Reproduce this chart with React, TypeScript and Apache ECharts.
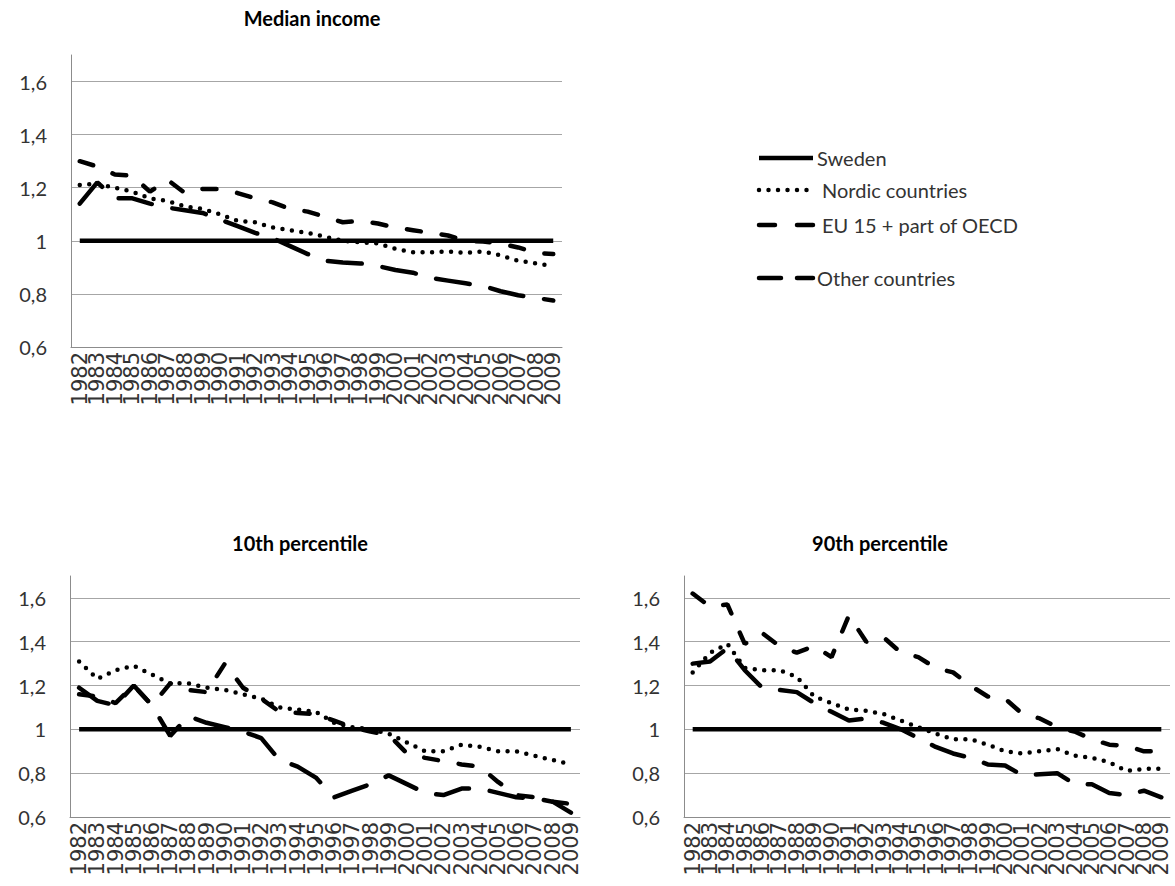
import * as echarts from "echarts";
import { useEffect, useRef } from "react";

const years = [
  "1982", "1983", "1984", "1985", "1986", "1987", "1988", "1989", "1990", "1991",
  "1992", "1993", "1994", "1995", "1996", "1997", "1998", "1999", "2000", "2001",
  "2002", "2003", "2004", "2005", "2006", "2007", "2008", "2009",
];

const seriesNames = ["Sweden", "Nordic countries", "EU 15 + part of OECD", "Other countries"];

const sweden = [1, 1, 1, 1, 1, 1, 1, 1, 1, 1, 1, 1, 1, 1, 1, 1, 1, 1, 1, 1, 1, 1, 1, 1, 1, 1, 1, 1];

// Median income
const nordicMedian = [1.21, 1.215, 1.2, 1.185, 1.16, 1.15, 1.13, 1.12, 1.1, 1.075, 1.07, 1.05, 1.04, 1.03, 1.015, 1.0, 0.995, 0.99, 0.97, 0.957, 0.957, 0.96, 0.955, 0.96, 0.945, 0.925, 0.915, 0.905];
const eu15Median = [1.3, 1.28, 1.25, 1.245, 1.185, 1.23, 1.18, 1.195, 1.195, 1.18, 1.16, 1.145, 1.12, 1.11, 1.09, 1.07, 1.075, 1.065, 1.05, 1.04, 1.03, 1.02, 1.0, 0.997, 0.99, 0.975, 0.955, 0.95];
const otherMedian = [1.14, 1.22, 1.16, 1.16, 1.14, 1.125, 1.115, 1.105, 1.08, 1.055, 1.03, 1.01, 0.98, 0.95, 0.925, 0.918, 0.915, 0.905, 0.89, 0.88, 0.86, 0.85, 0.84, 0.83, 0.81, 0.795, 0.785, 0.775];

// 10th percentile
const nordicP10 = [1.31, 1.23, 1.27, 1.29, 1.25, 1.21, 1.21, 1.19, 1.18, 1.16, 1.14, 1.1, 1.09, 1.08, 1.03, 1.01, 1.0, 0.98, 0.94, 0.9, 0.9, 0.93, 0.92, 0.9, 0.9, 0.88, 0.86, 0.84];
const eu15P10 = [1.16, 1.15, 1.12, 1.2, 1.11, 1.21, 1.18, 1.17, 1.3, 1.19, 1.14, 1.08, 1.075, 1.07, 1.04, 1.01, 0.99, 0.975, 0.89, 0.87, 0.855, 0.84, 0.83, 0.76, 0.7, 0.69, 0.67, 0.66];
const otherP10 = [1.19, 1.13, 1.11, 1.2, 1.11, 0.97, 1.06, 1.03, 1.01, 0.99, 0.96, 0.86, 0.83, 0.78, 0.69, 0.72, 0.75, 0.79, 0.75, 0.71, 0.7, 0.73, 0.73, 0.71, 0.69, 0.685, 0.67, 0.62];

// 90th percentile
const nordicP90 = [1.26, 1.35, 1.39, 1.28, 1.27, 1.27, 1.24, 1.15, 1.12, 1.09, 1.085, 1.07, 1.04, 1.01, 0.98, 0.955, 0.955, 0.93, 0.9, 0.89, 0.9, 0.91, 0.88, 0.87, 0.85, 0.81, 0.82, 0.82];
const eu15P90 = [1.62, 1.56, 1.57, 1.39, 1.44, 1.38, 1.35, 1.38, 1.33, 1.52, 1.4, 1.42, 1.35, 1.33, 1.28, 1.26, 1.2, 1.15, 1.14, 1.07, 1.05, 1.01, 0.99, 0.955, 0.93, 0.925, 0.9, 0.9];
const otherP90 = [1.3, 1.31, 1.37, 1.27, 1.19, 1.18, 1.17, 1.12, 1.08, 1.04, 1.05, 1.03, 1.0, 0.96, 0.92, 0.89, 0.87, 0.84, 0.835, 0.79, 0.795, 0.8, 0.75, 0.75, 0.71, 0.7, 0.72, 0.69];

const panels = [
  { title: "Median income", data: [sweden, nordicMedian, eu15Median, otherMedian] },
  { title: "10th percentile", data: [sweden, nordicP10, eu15P10, otherP10] },
  { title: "90th percentile", data: [sweden, nordicP90, eu15P90, otherP90] },
];

const grids = [
  { left: 71, top: 55, width: 491, height: 292 },
  { left: 70, top: 576, width: 510, height: 241 },
  { left: 684, top: 576, width: 486, height: 241 },
];

const lineStyles = [
  { type: "solid", width: 4.5, cap: "butt" },
  { type: [0, 9.5], width: 4.5, cap: "round" },
  { type: [14, 21], width: 4.5, cap: "round" },
  { type: [34, 21], width: 4.5, cap: "round" },
];

// legend sample dash patterns and rows
const legendDash = [null, [0, 9.5], [16, 22], [22, 16]];
const legendRows = [158, 190, 225, 278];

const font = "Lato";
const textColor = "#333";

const App = () => {
  const chartRef = useRef<HTMLDivElement>(null);

  useEffect(() => {
    const chart = echarts.init(chartRef.current!, null, { renderer: "svg" });

    const fmt = (v: number) => String(Math.round(v * 10) / 10).replace(".", ",");

    const legendGraphics = seriesNames.flatMap((name, i) => [
      {
        type: "line",
        shape: { x1: 759, y1: legendRows[i], x2: 813, y2: legendRows[i] },
        style: {
          stroke: "#000",
          lineWidth: 4.5,
          lineDash: legendDash[i] || undefined,
          lineCap: i === 0 ? "butt" : "round",
        },
      },
      {
        type: "text",
        x: i === 0 || i === 3 ? 817 : 822,
        y: legendRows[i],
        style: {
          text: name,
          font: `20px ${font}`,
          fill: textColor,
          textVerticalAlign: "middle",
        },
      },
    ]);

    chart.setOption({
      animation: false,
      backgroundColor: "#fff",
      textStyle: { fontFamily: font },
      grid: grids,
      xAxis: grids.map((_, i) => ({
        type: "category",
        gridIndex: i,
        data: years,
        boundaryGap: true,
        axisLine: { lineStyle: { color: "#8c8c8c", width: 1 } },
        axisTick: { show: false },
        axisLabel: {
          interval: 0,
          rotate: 90,
          margin: 5,
          fontFamily: "DejaVu Sans",
          fontSize: 21,
          color: textColor,
        },
      })),
      yAxis: grids.map((_, i) => ({
        type: "value",
        gridIndex: i,
        min: 0.6,
        max: 1.7,
        interval: 0.2,
        axisLine: { show: true, lineStyle: { color: "#8c8c8c", width: 1 } },
        axisTick: { show: false },
        splitLine: { show: true, showMaxLine: false, lineStyle: { color: "#a6a6a6", width: 1 } },
        axisLabel: {
          showMaxLabel: false,
          margin: 24,
          fontFamily: font,
          fontSize: 20,
          color: textColor,
          formatter: fmt,
        },
      })),
      graphic: [
        {
          type: "text",
          x: 312,
          y: 8,
          style: { text: panels[0].title, font: `bold 20px ${font}`, fill: "#000", textAlign: "center" },
        },
        {
          type: "text",
          x: 300,
          y: 533,
          style: { text: panels[1].title, font: `bold 20px ${font}`, fill: "#000", textAlign: "center" },
        },
        {
          type: "text",
          x: 880,
          y: 533,
          style: { text: panels[2].title, font: `bold 20px ${font}`, fill: "#000", textAlign: "center" },
        },
        ...legendGraphics,
      ],
      series: panels.flatMap((p, gi) =>
        p.data.map((d, si) => ({
          name: seriesNames[si],
          type: "line",
          xAxisIndex: gi,
          yAxisIndex: gi,
          data: d,
          symbol: "none",
          smooth: false,
          itemStyle: { color: "#000" },
          lineStyle: { color: "#000", ...lineStyles[si] },
        }))
      ),
    });
    return () => chart.dispose();
  }, []);

  return (
    <div
      ref={chartRef}
      style={{ position: "fixed", left: 0, top: 0, width: 1175, height: 886, background: "#fff" }}
    />
  );
};

export default App;
